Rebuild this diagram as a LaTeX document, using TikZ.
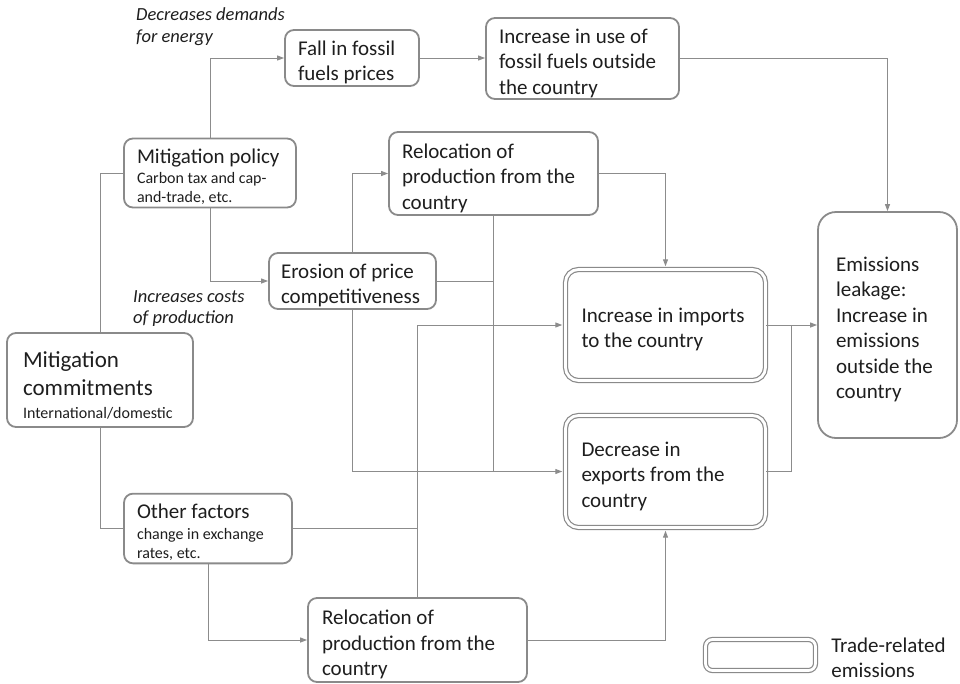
\documentclass[tikz,border=0pt]{standalone}
\usepackage{fontspec}
\setmainfont{Carlito}
\usetikzlibrary{arrows.meta,positioning,calc}

\definecolor{boxgray}{HTML}{8A8A8A}
\definecolor{linegray}{HTML}{8C8C8C}
\definecolor{inkgray}{HTML}{1E1E1E}

\newcommand{\mainsize}{\fontsize{21}{25.5}\selectfont}
\newcommand{\subsize}{\fontsize{16}{19}\selectfont}
\newcommand{\bigsize}{\fontsize{23}{28}\selectfont}

\begin{document}
\begin{tikzpicture}[x=1pt,y=-1pt,
  box/.style={draw=boxgray,line width=1.8pt,rounded corners=9pt,text=inkgray,
    font=\mainsize,align=flush left,inner xsep=13pt,inner ysep=0pt,
    execute at begin node={\rule{0pt}{25pt}},
    execute at end node={\rule[-5pt]{0pt}{5pt}}},
  tradebox/.style={box,line width=1.2pt,double=white,double distance=2.8pt,
    rounded corners=13pt,inner xsep=16pt},
  note/.style={font=\fontsize{18.5}{21.7}\selectfont\itshape,text=inkgray,
    align=flush left,inner sep=0pt,anchor=west},
  link/.style={draw=linegray,line width=1pt},
  conn/.style={link,-{Triangle[length=7pt,width=5pt]}},
  totrade/.style={shorten >=2.6pt}]

   \useasboundingbox (0,0) rectangle (960,683);

   \node[box,minimum width=134pt,minimum height=56pt,text width=108pt] (fall) at (352,58) {Fall in fossil\\fuels prices};
   \node[box,minimum width=193pt,minimum height=79pt,text width=167pt] (fuels) at (582.5,58.5) {Increase in use of\\fossil fuels outside\\the country};
   \node[box,minimum width=172pt,minimum height=66pt,text width=146pt,font=\subsize] (policy) at (210,173) {\mainsize Mitigation policy\\[1pt]\subsize Carbon tax and cap-\\and-trade, etc.};
   \node[box,minimum width=209pt,minimum height=83pt,text width=183pt] (relocup) at (493.5,173.5) {Relocation of\\production from the\\country};
   \node[box,minimum width=167pt,minimum height=56pt,text width=143pt,inner xsep=12pt] (erosion) at (352.5,281) {Erosion of price\\competitiveness};
   \node[box,minimum width=186pt,minimum height=94pt,text width=154pt,inner xsep=16pt,font=\subsize,
     execute at begin node={\rule{0pt}{31pt}}] (commit) at (100,380) {\bigsize Mitigation\\commitments\\[3.7pt]\subsize International/domestic};
   \node[box,minimum width=168pt,minimum height=69pt,text width=142pt,font=\subsize] (others) at (208,528.5) {\mainsize Other factors\\[1.7pt]\subsize change in exchange\\rates, etc.};
   \node[box,minimum width=219pt,minimum height=84pt,text width=191pt,inner xsep=14pt] (relocdown) at (417.5,640) {Relocation of\\production from the\\country};
   \node[tradebox,minimum width=200pt,minimum height=111pt,text width=168pt] (imports) at (665.5,325) {Increase in imports\\to the country};
   \node[tradebox,minimum width=200pt,minimum height=112pt,text width=168pt] (exports) at (665.5,471.5) {Decrease in\\exports from the\\country};
   \node[box,minimum width=139pt,minimum height=226pt,text width=103pt,inner xsep=18pt,rounded corners=18pt] (leakage) at (887.5,325) {Emissions\\leakage:\\Increase in\\emissions\\outside the\\country};

   \node[note,text width=160pt] (demandnote) at (136,27) {Decreases demands\\for energy};
   \node[note,text width=130pt] (costnote) at (133,308.5) {Increases costs\\of production};

   \node[tradebox,minimum width=110pt,minimum height=31pt,rounded corners=7pt] (legend) at (760.5,655) {};
   \node[right=15pt of legend,yshift=-3pt,font=\mainsize,text=inkgray,align=flush left,inner sep=0pt] (legendtext) {Trade-related\\emissions};

   \coordinate (merge) at ($(imports.east)!0.5!(leakage.west)$);

   \draw[conn] (policy.north) |- (fall.west);
   \draw[conn] (fall.east) -- (fall.east -| fuels.west);
   \draw[conn] (fuels.east) -| (leakage.north);
   \draw[link] (commit.north) |- (policy.west);
   \draw[link] (commit.south) |- (others.west);
   \draw[conn] (policy.south) |- (erosion.west);
   \draw[conn] (erosion.north) |- (relocup.west);
   \draw[conn,totrade] (erosion.south) |- (exports.west);
   \draw[link] (erosion.east) -- (erosion.east -| relocup.south);
   \draw[link] (relocup.south) -- (relocup.south |- exports.west);
   \draw[conn,totrade] (relocup.east) -| (imports.north);
   \draw[conn,totrade] (relocdown.north) |- (imports.west);
   \draw[link] (others.east) -- (others.east -| relocdown.north);
   \draw[conn,totrade] (relocdown.east) -| (exports.south);
   \draw[conn] (others.south) |- (relocdown.west);
   \draw[conn] (imports.east) -- (leakage.west |- imports.east);
   \draw[link] (exports.east) -| (merge);
\end{tikzpicture}
\end{document}
